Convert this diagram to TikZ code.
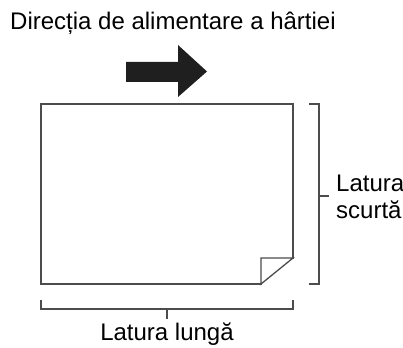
\documentclass[tikz,border=0pt]{standalone}
\usepackage{fontspec}
\setmainfont{Liberation Sans}
\begin{document}
\begin{tikzpicture}[x=1pt,y=-1pt,
  ln/.style={draw=black!70,line width=1.3pt,line cap=rect},
  lbl/.style={inner sep=0pt,font=\fontsize{24}{27}\selectfont,text=black}]
\useasboundingbox (0,0) rectangle (403,347);
% title
\node[lbl,anchor=base west] (title) at (10,30) {Direcția de alimentare a hârtiei};
% arrow
\fill[black!88] (126,62) -- (178,62) -- (178,45) -- (207,71.5) -- (178,97) -- (178,82) -- (126,82) -- cycle;
% paper with folded corner
\coordinate (tl) at (41,104);
\coordinate (tr) at (293,104);
\coordinate (bl) at (41,284);
\draw[ln] (261,284) -- (bl) -- (tl) -- (tr) -- (293,258);
\draw[ln] (261,284) -- (261,258) -- (293,258) -- cycle;
% right bracket
\draw[ln] (310,104) -- (319,104) -- (319,284) -- (310,284);
\draw[ln] (319,196) -- (328,196);
% bottom bracket
\draw[ln] (41,301) -- (41,309) -- (293,309) -- (293,301);
\draw[ln] (167,309) -- (167,318);
% labels
\node[lbl,anchor=base west] (short) at (336,191) {Latura};
\node[lbl,anchor=base west] (short2) at (336,218) {scurtă};
\node[lbl,anchor=base] (long) at (167,340) {Latura lungă};
\end{tikzpicture}
\end{document}
